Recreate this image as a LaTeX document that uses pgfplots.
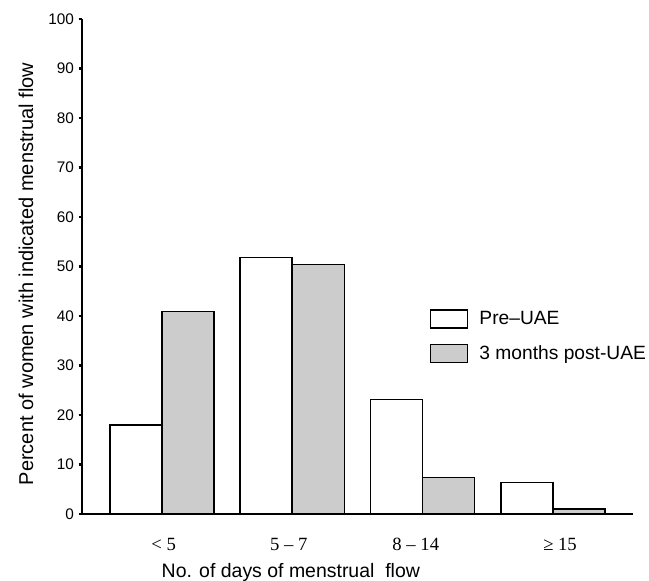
\documentclass[border=0pt]{standalone}
\usepackage{fontspec}
\setmainfont{Liberation Sans}
\newfontfamily\seriffont{Liberation Serif}
\usepackage{pgfplots}
\pgfplotsset{compat=1.18}
\begin{document}
\begin{tikzpicture}
\begin{axis}[
  scale only axis, width=413.25pt, height=371.25pt,
  xmin=-0.614, xmax=3.615, ymin=0, ymax=100,
  axis x line=bottom, axis y line=left,
  axis line style={-, line width=1.2pt},
  ytick={0,10,...,100}, tick align=outside, major tick length=2.5pt,
  ytick style={line width=2.2pt, black}, xtick style={draw=none},
  xtick={0.013,0.973,1.948,3.055},
  xticklabels={{< 5},{5 – 7},{8 – 14},{≥ 15}},
  xticklabel style={font=\seriffont\fontsize{14}{14}\selectfont, anchor=base, yshift=-25pt},
  yticklabel style={font=\fontsize{11.5}{11.5}\selectfont},
  /pgf/number format/assume math mode=true,
  xlabel={No. of days of menstrual\ \ flow},
  xlabel style={at={(rel axis cs:0.379,-0.1273)}, anchor=base, font=\fontsize{14.6}{14.6}\selectfont},
  ylabel={Percent of women with indicated menstrual flow},
  ylabel style={at={(rel axis cs:-0.0889,0.485)}, anchor=base, font=\fontsize{15}{15}\selectfont},
  legend style={at={(rel axis cs:0.631,0.359)}, anchor=west, draw=none, fill=none,
    font=\fontsize{14.4}{14.4}\selectfont, row sep=10pt, inner sep=0pt},
  legend cell align=left,
]
\addplot[ybar, bar width=0.4, bar shift=-0.2, fill=white, draw=black, line width=1.2pt,
  legend image code/.code={\draw[fill=white, draw=black, line width=1.1pt] (0pt,-6.75pt) rectangle (27.75pt,6.75pt); \path (34pt,0pt);}]
  coordinates {(0,18.0) (1,51.8) (2,23.1) (3,6.4)};
\addplot[ybar, bar width=0.4, bar shift=0.2, fill=black!20, draw=black, line width=1.2pt,
  legend image code/.code={\draw[fill=black!20, draw=black, line width=1.1pt] (0pt,-6.75pt) rectangle (27.75pt,6.75pt); \path (34pt,0pt);}]
  coordinates {(0,40.9) (1,50.4) (2,7.35) (3,1.0)};
\legend{Pre–UAE, 3 months post-UAE}
\end{axis}
\pgfresetboundingbox
\path (-61.5pt,-50.25pt) rectangle (425.25pt,385.5pt);
\end{tikzpicture}
\end{document}
